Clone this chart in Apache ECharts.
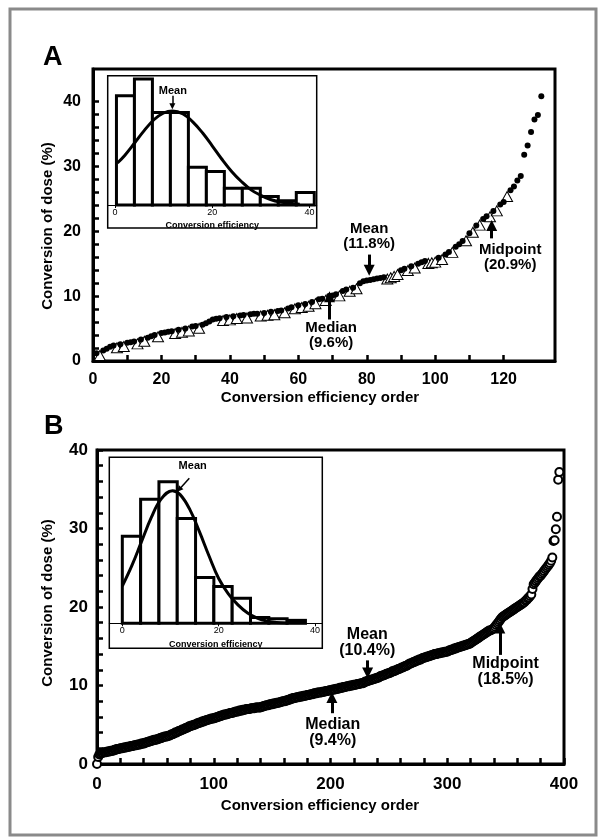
<!DOCTYPE html>
<html>
<head>
<meta charset="utf-8">
<title>Conversion of dose</title>
<script src="https://cdn.jsdelivr.net/npm/echarts@6/dist/echarts.min.js"></script>
<style>
  html, body { margin: 0; padding: 0; background: #fff; }
  #main { width: 603px; height: 839px; }
</style>
</head>
<body>
<div id="main"></div>
<script>
// panel A: conversion of dose (%) sorted by efficiency, order 1..131
var doseA = [
  1.2, 1.3, 1.6, 1.9, 2.2, 2.4, 2.5, 2.6, 2.7, 2.8,
  2.9, 3.0, 3.1, 3.3, 3.5, 3.6, 3.8, 4.0, 4.2, 4.3,
  4.4, 4.5, 4.6, 4.7, 4.8, 4.9, 5.0, 5.1, 5.3, 5.4,
  5.5, 5.6, 5.8, 6.1, 6.4, 6.5, 6.6, 6.7, 6.8, 6.8,
  6.9, 7.0, 7.0, 7.1, 7.1, 7.2, 7.3, 7.3, 7.4, 7.4,
  7.5, 7.6, 7.6, 7.7, 7.8, 7.9, 8.1, 8.3, 8.5, 8.6,
  8.7, 8.8, 8.9, 9.1, 9.3, 9.5, 9.6, 9.8, 10.0, 10.1,
  10.3, 10.5, 10.8, 11.0, 11.2, 11.3, 11.6, 12.0, 12.3, 12.4,
  12.5, 12.6, 12.7, 12.8, 12.9, 13.1, 13.3, 13.5, 13.8, 14.0,
  14.2, 14.4, 14.6, 14.8, 15.0, 15.2, 15.4, 15.5, 15.6, 15.7,
  15.9, 16.1, 16.4, 16.8, 17.2, 17.6, 18.0, 18.5, 19.0, 19.7,
  20.3, 20.9, 21.4, 21.9, 22.3, 22.7, 23.1, 23.6, 24.1, 24.5,
  25.8, 26.3, 26.9, 27.8, 28.5, 31.8, 33.2, 35.3, 37.2, 37.9, 40.8
];
// orders drawn as open triangles (the rest are filled dots)
var triangleOrderA = [2, 7, 9, 13, 15, 19, 24, 26, 28, 31, 38, 40, 42, 45, 49, 51, 53, 56, 59, 61,
  63, 65, 68, 72, 75, 77, 86, 87, 88, 89, 92, 94, 98, 99, 100, 102, 105, 109, 111, 113, 116, 118, 121];

// inset A histogram + fitted normal curve
var binEdgesA = [0.3, 4.0, 7.7, 11.4, 15.1, 18.8, 22.5, 26.2, 29.9, 33.6, 37.3, 41.0];
var binCountsA = [26, 30, 22, 22, 9, 8, 4, 4, 2, 1, 3];
var curveXA = [0.5, 2, 4, 6, 8, 10, 11.8, 14, 16, 18, 20, 22, 24, 26, 28, 30, 32, 34, 36, 38];
var curveYA = [10, 11.8, 14.7, 17.7, 20.3, 21.9, 22.4, 21.7, 19.8, 17.2, 14.1, 10.9, 8.0, 5.6, 3.6, 2.3, 1.3, 0.7, 0.4, 0.2];

// panel B: conversion of dose (%) sorted by efficiency, order 0..396
var doseB = [
  0.0, 0.9, 1.2, 1.3, 1.4, 1.4, 1.5, 1.5, 1.5, 1.6,
  1.6, 1.6, 1.7, 1.7, 1.7, 1.8, 1.8, 1.9, 1.9, 1.9,
  2.0, 2.0, 2.0, 2.1, 2.1, 2.1, 2.2, 2.2, 2.2, 2.3,
  2.3, 2.3, 2.4, 2.4, 2.4, 2.5, 2.5, 2.5, 2.6, 2.6,
  2.6, 2.7, 2.7, 2.8, 2.8, 2.9, 2.9, 3.0, 3.0, 3.1,
  3.1, 3.1, 3.2, 3.2, 3.3, 3.3, 3.4, 3.4, 3.5, 3.5,
  3.5, 3.6, 3.6, 3.7, 3.8, 3.8, 3.9, 4.0, 4.0, 4.1,
  4.2, 4.2, 4.3, 4.4, 4.4, 4.5, 4.6, 4.6, 4.7, 4.8,
  4.8, 4.9, 4.9, 5.0, 5.0, 5.1, 5.2, 5.2, 5.3, 5.3,
  5.4, 5.4, 5.5, 5.5, 5.6, 5.6, 5.7, 5.7, 5.8, 5.8,
  5.8, 5.9, 5.9, 6.0, 6.0, 6.1, 6.1, 6.2, 6.2, 6.3,
  6.3, 6.3, 6.4, 6.4, 6.5, 6.5, 6.5, 6.6, 6.6, 6.7,
  6.7, 6.7, 6.8, 6.8, 6.8, 6.9, 6.9, 6.9, 7.0, 7.0,
  7.0, 7.0, 7.1, 7.1, 7.1, 7.1, 7.2, 7.2, 7.2, 7.2,
  7.2, 7.3, 7.3, 7.4, 7.4, 7.5, 7.5, 7.5, 7.6, 7.6,
  7.6, 7.7, 7.7, 7.7, 7.8, 7.8, 7.8, 7.9, 7.9, 8.0,
  8.0, 8.0, 8.1, 8.1, 8.2, 8.2, 8.3, 8.3, 8.4, 8.4,
  8.4, 8.5, 8.5, 8.5, 8.6, 8.6, 8.6, 8.7, 8.7, 8.7,
  8.8, 8.8, 8.8, 8.9, 8.9, 8.9, 9.0, 9.0, 9.0, 9.1,
  9.1, 9.1, 9.1, 9.2, 9.2, 9.2, 9.3, 9.3, 9.3, 9.4,
  9.4, 9.4, 9.5, 9.5, 9.5, 9.6, 9.6, 9.6, 9.7, 9.7,
  9.7, 9.8, 9.8, 9.8, 9.9, 9.9, 9.9, 10.0, 10.0, 10.0,
  10.1, 10.1, 10.1, 10.2, 10.2, 10.2, 10.3, 10.3, 10.3, 10.4,
  10.5, 10.5, 10.6, 10.6, 10.7, 10.7, 10.8, 10.8, 10.9, 10.9,
  11.0, 11.0, 11.1, 11.2, 11.2, 11.3, 11.3, 11.4, 11.5, 11.5,
  11.6, 11.6, 11.7, 11.8, 11.8, 11.9, 11.9, 12.0, 12.1, 12.1,
  12.2, 12.3, 12.3, 12.4, 12.5, 12.5, 12.6, 12.7, 12.8, 12.8,
  12.9, 13.0, 13.0, 13.1, 13.2, 13.2, 13.3, 13.3, 13.4, 13.5,
  13.5, 13.6, 13.6, 13.7, 13.7, 13.8, 13.8, 13.9, 13.9, 14.0,
  14.0, 14.0, 14.1, 14.1, 14.1, 14.2, 14.2, 14.2, 14.3, 14.3,
  14.3, 14.4, 14.5, 14.5, 14.6, 14.6, 14.7, 14.7, 14.8, 14.8,
  14.9, 14.9, 15.0, 15.0, 15.1, 15.1, 15.2, 15.2, 15.3, 15.3,
  15.4, 15.5, 15.6, 15.7, 15.8, 15.9, 16.0, 16.1, 16.2, 16.3,
  16.4, 16.5, 16.6, 16.7, 16.8, 16.9, 17.0, 17.0, 17.1, 17.2,
  17.3, 17.5, 17.7, 17.9, 18.1, 18.3, 18.5, 18.7, 18.8, 18.9,
  19.0, 19.1, 19.2, 19.3, 19.4, 19.5, 19.6, 19.7, 19.8, 19.9,
  20.0, 20.1, 20.2, 20.3, 20.4, 20.5, 20.6, 20.8, 20.9, 21.1,
  21.2, 21.4, 21.6, 22.3, 22.9, 23.1, 23.3, 23.5, 23.7, 23.9,
  24.0, 24.2, 24.4, 24.6, 24.8, 25.0, 25.2, 25.4, 25.6, 25.9,
  26.3, 28.4, 28.5, 29.9, 31.5, 36.2, 37.2
];

// inset B histogram + fitted normal curve
var binEdgesB = [0, 3.8, 7.6, 11.4, 15.2, 19.0, 22.8, 26.6, 30.4, 34.2, 38.0];
var binCountsB = [59, 84, 96, 71, 31, 25, 17, 4, 3, 2];
var curveXB = [0, 2, 4, 6, 8, 10.4, 12, 14, 16, 18, 20, 22, 24, 26, 28, 30, 32, 34];
var curveYB = [25.2, 39.2, 55.5, 71.6, 84.0, 89.9, 87.2, 77.2, 62.1, 45.6, 30.4, 20, 12.5, 7, 3.5, 1.5, 0.6, 0.2];

// tick values
var ticksXA = [0, 10, 20, 30, 40, 50, 60, 70, 80, 90, 100, 110, 120];
var labelsXA = [0, 20, 40, 60, 80, 100, 120];
var ticksYA = [0, 2, 4, 6, 8, 10, 12, 14, 16, 18, 20, 22, 24, 26, 28, 30, 32, 34, 36, 38, 40];
var labelsYA = [0, 10, 20, 30, 40];
var ticksXB = [0, 20, 40, 60, 80, 100, 120, 140, 160, 180, 200, 220, 240, 260, 280, 300, 320, 340, 360, 380, 400];
var labelsXB = [0, 100, 200, 300, 400];
var ticksYB = ticksYA;
var labelsYB = [0, 10, 20, 30, 40];
var insetLabels = [0, 20, 40];

// annotations (text, where it sits, arrow start -> end)
var notesA = [
  { text: 'Mean\n(11.8%)', at: [80.7, 19.15], from: [80.7, 16.4], to: [80.7, 14.0] },
  { text: 'Median\n(9.6%)', at: [69.6, 3.97], from: [69.1, 6.4], to: [69.1, 9.9] },
  { text: 'Midpoint\n(20.9%)', at: [121.9, 16.0], from: [116.5, 18.9], to: [116.5, 20.9] }
];
var notesB = [
  { text: 'Mean\n(10.4%)', at: [231.5, 15.5], from: [231.8, 13.2], to: [231.8, 11.6] },
  { text: 'Median\n(9.4%)', at: [201.9, 3.97], from: [201.2, 6.47], to: [201.2, 8.46] },
  { text: 'Midpoint\n(18.5%)', at: [350, 11.75], from: [345, 13.9], to: [345, 17.33] }
];
var insetNoteA = { text: 'Mean', at: [11.9, 27.2], from: [11.8, 26.0], to: [11.8, 23.5] };
var insetNoteB = { text: 'Mean', at: [14.6, 106.6], from: [13.9, 98.3], to: [11.8, 90.7] };

var FONT = 'Liberation Sans, Arial, sans-serif';

function histData(edges, counts) {
  return counts.map(function (c, i) { return [edges[i], edges[i + 1], c]; });
}
function renderBin(params, api) {
  var p0 = api.coord([api.value(0), 0]);
  var p1 = api.coord([api.value(1), api.value(2)]);
  return {
    type: 'rect',
    shape: { x: p0[0], y: p1[1], width: p1[0] - p0[0], height: p0[1] - p1[1] },
    style: { fill: '#fff', stroke: '#000', lineWidth: 3 }
  };
}
function markers(notes, fontSize, headSize, lineWidth) {
  return {
    markLine: {
      silent: true,
      animation: false,
      symbol: ['none', 'triangle'],
      symbolSize: headSize,
      label: { show: false },
      itemStyle: { color: '#000', opacity: 1 },
      lineStyle: { color: '#000', width: lineWidth, type: 'solid', opacity: 1 },
      emphasis: { disabled: true },
      data: notes.map(function (n) { return [{ coord: n.from }, { coord: n.to }]; })
    },
    markPoint: {
      silent: true,
      animation: false,
      symbol: 'circle',
      symbolSize: 1,
      itemStyle: { color: 'rgba(0,0,0,0)' },
      label: {
        show: true, position: 'inside', formatter: '{b}', color: '#000',
        fontFamily: FONT, fontWeight: 'bold', fontSize: fontSize, lineHeight: fontSize, align: 'center'
      },
      data: notes.map(function (n) { return { name: n.text, coord: n.at }; })
    }
  };
}
function mainX(grid, max, ticks, labels, fontSize, margin) {
  return {
    gridIndex: grid, type: 'value', min: 0, max: max,
    axisLine: { show: true, onZero: false, lineStyle: { color: '#000', width: 3 } },
    axisTick: { show: true, inside: true, length: 6, customValues: ticks, lineStyle: { color: '#000', width: 2.5 } },
    axisLabel: { customValues: labels, color: '#000', fontFamily: FONT, fontWeight: 'bold', fontSize: fontSize, margin: margin },
    splitLine: { show: false }
  };
}
function mainY(grid, max, ticks, labels, fontSize, margin) {
  return {
    gridIndex: grid, type: 'value', min: 0, max: max,
    axisLine: { show: true, onZero: false, lineStyle: { color: '#000', width: 3 } },
    axisTick: { show: true, inside: true, length: 6, customValues: ticks, lineStyle: { color: '#000', width: 2.5 } },
    axisLabel: { customValues: labels, color: '#000', fontFamily: FONT, fontWeight: 'bold', fontSize: fontSize, margin: margin },
    splitLine: { show: false }
  };
}
function insetX(grid, min, max, gap) {
  return {
    gridIndex: grid, type: 'value', min: min, max: max,
    axisLine: { show: true, onZero: false, lineStyle: { color: '#000', width: 1 } },
    axisTick: { show: true, length: 3, customValues: insetLabels, lineStyle: { color: '#000', width: 1 } },
    axisLabel: { customValues: insetLabels, color: '#000', fontFamily: FONT, fontSize: 9, margin: 3 },
    splitLine: { show: false },
    name: 'Conversion efficiency', nameLocation: 'middle', nameGap: gap,
    nameTextStyle: { color: '#000', fontFamily: FONT, fontWeight: 'bold', fontSize: 9 }
  };
}
function insetY(grid, max) {
  return { gridIndex: grid, type: 'value', min: 0, max: max, show: false, splitLine: { show: false } };
}

var triSet = {};
triangleOrderA.forEach(function (o) { triSet[o] = true; });
var triData = [], dotData = [];
doseA.forEach(function (v, i) {
  if (triSet[i + 1]) triData.push([i + 1, v]); else dotData.push([i + 1, v]);
});

var myChart = echarts.init(document.getElementById('main'));
var option = {
  animation: false,
  backgroundColor: '#fff',
  grid: [
    { left: 93, top: 69, width: 462, height: 292, show: true, borderColor: '#000', borderWidth: 3 },
    { left: 107.7, top: 79, width: 209, height: 126 },
    { left: 97, top: 450, width: 467, height: 314, show: true, borderColor: '#000', borderWidth: 3 },
    { left: 109.3, top: 461, width: 213, height: 162.3 }
  ],
  xAxis: [
    mainX(0, 135, ticksXA, labelsXA, 16, 11),
    insetX(1, -1.5, 41.5, 16),
    mainX(2, 400, ticksXB, labelsXB, 17, 12),
    insetX(3, -2.7, 41.5, 17)
  ],
  yAxis: [
    mainY(0, 45, ticksYA, labelsYA, 16, 12),
    insetY(1, 30),
    mainY(2, 40, ticksYB, labelsYB, 17, 9),
    insetY(3, 110)
  ],
  graphic: [
    { type: 'rect', shape: { x: 10, y: 9, width: 586, height: 826 }, style: { fill: 'none', stroke: '#8a8a8a', lineWidth: 3 }, z: 0 },
    { type: 'rect', shape: { x: 107.7, y: 75.7, width: 209, height: 152.3 }, style: { fill: '#fff', stroke: '#000', lineWidth: 1.5 }, z: 0 },
    { type: 'rect', shape: { x: 109.3, y: 457.3, width: 213, height: 191 }, style: { fill: '#fff', stroke: '#000', lineWidth: 1.5 }, z: 0 },
    { type: 'text', x: 43, y: 44, style: { text: 'A', font: 'bold 27px ' + FONT, fill: '#000' } },
    { type: 'text', x: 44, y: 413, style: { text: 'B', font: 'bold 27px ' + FONT, fill: '#000' } },
    { type: 'text', x: 320, y: 398, style: { text: 'Conversion efficiency order', font: 'bold 15px ' + FONT, fill: '#000', align: 'center', verticalAlign: 'middle' } },
    { type: 'text', x: 320, y: 806, style: { text: 'Conversion efficiency order', font: 'bold 15px ' + FONT, fill: '#000', align: 'center', verticalAlign: 'middle' } },
    { type: 'text', x: 48, y: 226, rotation: Math.PI / 2, style: { text: 'Conversion of dose (%)', font: 'bold 15px ' + FONT, fill: '#000', align: 'center', verticalAlign: 'middle' } },
    { type: 'text', x: 48, y: 603, rotation: Math.PI / 2, style: { text: 'Conversion of dose (%)', font: 'bold 15px ' + FONT, fill: '#000', align: 'center', verticalAlign: 'middle' } }
  ],
  series: [
    {
      type: 'scatter', xAxisIndex: 0, yAxisIndex: 0, clip: false,
      symbol: 'triangle', symbolSize: [11, 10], symbolOffset: [0, 3],
      itemStyle: { color: '#fff', borderColor: '#000', borderWidth: 1, opacity: 1 },
      data: triData
    },
    Object.assign({
      type: 'scatter', xAxisIndex: 0, yAxisIndex: 0, clip: false,
      symbol: 'circle', symbolSize: 6,
      itemStyle: { color: '#000', opacity: 1 },
      data: dotData
    }, markers(notesA, 15, 11, 3)),
    {
      type: 'custom', xAxisIndex: 1, yAxisIndex: 1, renderItem: renderBin, clip: false,
      encode: { x: [0, 1], y: 2 },
      data: histData(binEdgesA, binCountsA)
    },
    Object.assign({
      type: 'line', xAxisIndex: 1, yAxisIndex: 1, smooth: 0.4, showSymbol: false, z: 5,
      itemStyle: { color: '#000' },
      lineStyle: { color: '#000', width: 3 },
      data: curveXA.map(function (x, i) { return [x, curveYA[i]]; })
    }, markers([insetNoteA], 11, 6, 1.5)),
    Object.assign({
      type: 'scatter', xAxisIndex: 2, yAxisIndex: 2, clip: false,
      symbol: 'emptyCircle', symbolSize: 8,
      itemStyle: { color: '#000', borderColor: '#000', borderWidth: 1.2, opacity: 1 },
      data: doseB.map(function (v, i) { return [i, v]; })
    }, markers(notesB, 16, 11, 3)),
    {
      type: 'custom', xAxisIndex: 3, yAxisIndex: 3, renderItem: renderBin, clip: false,
      encode: { x: [0, 1], y: 2 },
      data: histData(binEdgesB, binCountsB)
    },
    Object.assign({
      type: 'line', xAxisIndex: 3, yAxisIndex: 3, smooth: 0.4, showSymbol: false, z: 5,
      itemStyle: { color: '#000' },
      lineStyle: { color: '#000', width: 3 },
      data: curveXB.map(function (x, i) { return [x, curveYB[i]]; })
    }, markers([insetNoteB], 11, 6, 1.5))
  ]
};
window.onresize = myChart.resize;
myChart.setOption(option);
</script>
</body>
</html>
